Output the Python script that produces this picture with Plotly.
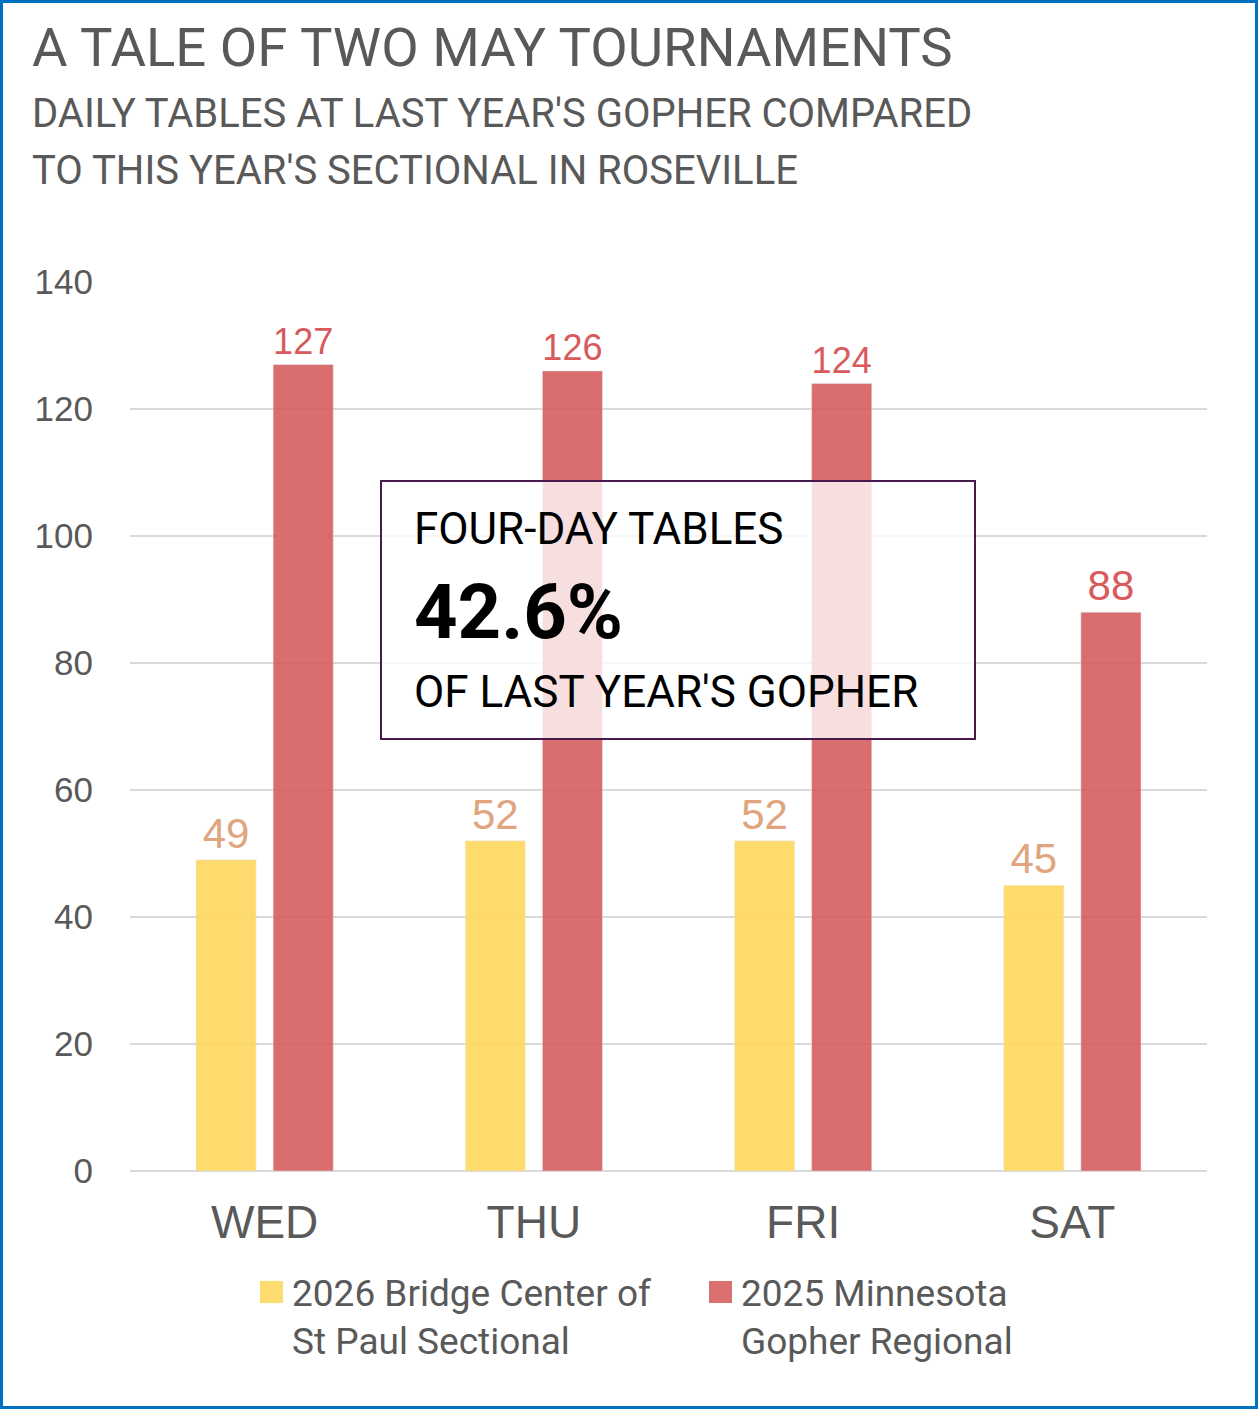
import plotly.graph_objects as go

# chart data
days = ["WED", "THU", "FRI", "SAT"]
sectional_2026 = [49, 52, 52, 45]
gopher_2025 = [127, 126, 124, 88]
series_names = ["2026 Bridge Center of<br>St Paul Sectional", "2025 Minnesota<br>Gopher Regional"]

title = "A TALE OF TWO MAY TOURNAMENTS"
subtitle = ["DAILY TABLES AT LAST YEAR'S GOPHER COMPARED",
            "TO THIS YEAR'S SECTIONAL IN ROSEVILLE"]

share = 100.0 * sum(sectional_2026) / sum(gopher_2025)

W, H = 1258, 1409
L, R, T, B = 130, 51, 282, 238
PW, PH = W - L - R, H - T - B

YELLOW = "#FFD85F"
RED = "#D65F5F"
GRAY = "#595959"


def px(x):
    return (x - L) / PW


def py(y):
    return (H - B - y) / PH


fig = go.Figure()
fig.add_trace(go.Bar(
    x=days, y=sectional_2026, name=series_names[0],
    marker=dict(color=YELLOW, opacity=0.9),
    text=sectional_2026, textposition="outside",
    textfont=dict(family="Liberation Sans", size=42, color="#E0A47E"),
    cliponaxis=False, showlegend=False,
))
fig.add_trace(go.Bar(
    x=days, y=gopher_2025, name=series_names[1],
    marker=dict(color=RED, opacity=0.9),
    text=gopher_2025, textposition="outside",
    textfont=dict(family="Liberation Sans", size=42, color="#D85A5C"),
    cliponaxis=False, showlegend=False,
))

shapes = [
    # outer border
    dict(type="rect", xref="paper", yref="paper", x0=px(1.5), x1=px(W - 1.5),
         y0=py(1.5), y1=py(H - 1.5), line=dict(color="#0070C0", width=3),
         layer="above"),
    # callout box
    dict(type="rect", xref="paper", yref="paper", x0=px(381), x1=px(975),
         y0=py(739), y1=py(481), fillcolor="rgba(255,255,255,0.78)",
         line=dict(color="#4A1A4F", width=2), layer="above"),
    # legend swatches
    dict(type="rect", xref="paper", yref="paper", x0=px(260), x1=px(283),
         y0=py(1303), y1=py(1281), fillcolor=YELLOW, opacity=0.9,
         line=dict(width=0)),
    dict(type="rect", xref="paper", yref="paper", x0=px(709), x1=px(732),
         y0=py(1303), y1=py(1281), fillcolor=RED, opacity=0.9,
         line=dict(width=0)),
]

roboto = "Roboto"
annotations = [
    dict(text=title, x=px(30), y=py(47), xanchor="left", yanchor="middle",
         font=dict(family=roboto, size=54.5, color=GRAY)),
    dict(text=subtitle[0], x=px(30), y=py(114), xanchor="left", yanchor="middle",
         font=dict(family=roboto, size=40, color=GRAY)),
    dict(text=subtitle[1], x=px(30), y=py(171), xanchor="left", yanchor="middle",
         font=dict(family=roboto, size=40, color=GRAY)),
    dict(text="FOUR-DAY TABLES", x=px(412), y=py(529), xanchor="left", yanchor="middle",
         font=dict(family=roboto, size=44, color="black")),
    dict(text="<b>%.1f%%</b>" % share, x=px(412), y=py(612), xanchor="left", yanchor="middle",
         font=dict(family=roboto, size=76, color="black")),
    dict(text="OF LAST YEAR'S GOPHER", x=px(412), y=py(692), xanchor="left", yanchor="middle",
         font=dict(family=roboto, size=44, color="black")),
    dict(text=series_names[0], x=px(290), y=py(1317), xanchor="left", yanchor="middle",
         align="left", font=dict(family=roboto, size=37, color=GRAY)),
    dict(text=series_names[1], x=px(739), y=py(1317), xanchor="left", yanchor="middle",
         align="left", font=dict(family=roboto, size=37, color=GRAY)),
]
for a in annotations:
    a.update(xref="paper", yref="paper", showarrow=False)

fig.update_layout(
    width=W, height=H,
    margin=dict(l=L, r=R, t=T, b=B),
    paper_bgcolor="white", plot_bgcolor="white",
    barmode="group", bargap=0.427, bargroupgap=0.22,
    shapes=shapes, annotations=annotations,
    xaxis=dict(showgrid=False, showline=False, ticks="",
               tickfont=dict(family="Liberation Sans", size=46, color=GRAY),
               ticklabelstandoff=20),
    yaxis=dict(range=[0, 140], dtick=20, showgrid=True, gridcolor="#D9D9D9",
               gridwidth=2, zeroline=True, zerolinecolor="#D9D9D9", zerolinewidth=2,
               showline=False, ticks="",
               tickfont=dict(family="Liberation Sans", size=35, color=GRAY),
               ticklabelstandoff=36),
)

fig.write_html("out.html", config={"displayModeBar": False},
               post_script="document.body.style.margin='0';")
